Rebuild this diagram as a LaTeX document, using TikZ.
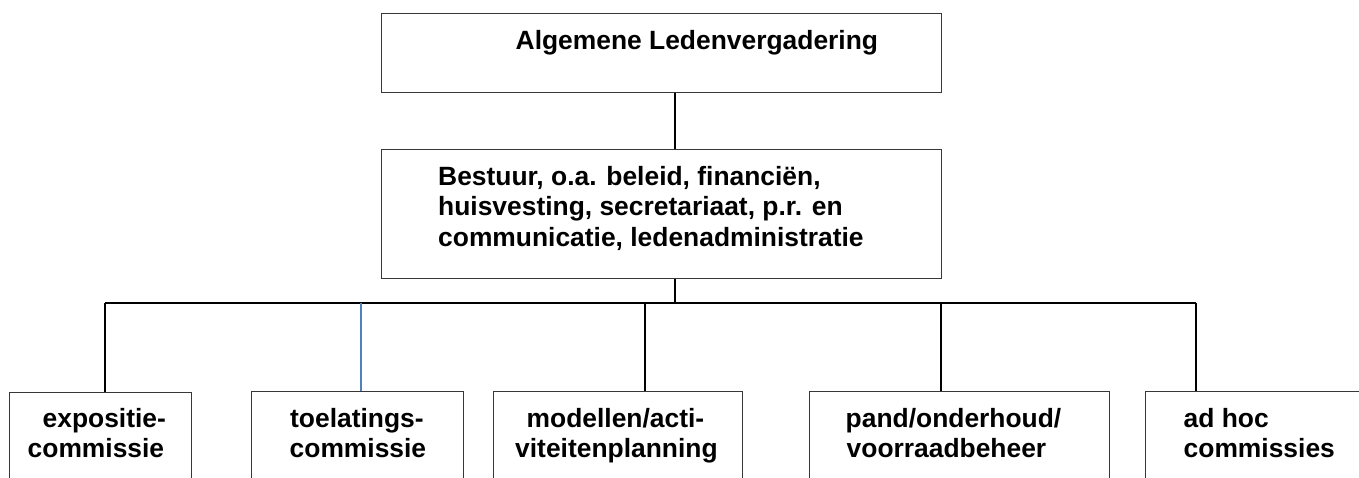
\documentclass[tikz,border=0pt]{standalone}
\usepackage{fontspec}
\setmainfont{Liberation Sans}
\begin{document}
\begin{tikzpicture}[x=1pt,y=-1pt,
  box/.style={draw=black!78, line width=1.1pt, rectangle, inner sep=0pt, anchor=north west},
  lbl/.style={inner sep=0pt, anchor=base west, font=\fontsize{26.4}{30}\selectfont\bfseries},
  conn/.style={draw=black, line width=1.4pt},
  bus/.style={draw=black, line width=2pt},
  blueconn/.style={draw={rgb,255:red,79;green,129;blue,189}, line width=1.4pt}]
\useasboundingbox (0,0) rectangle (1359,477);
\clip (0,0) rectangle (1359,477);
% boxes
\node[box, minimum width=560pt, minimum height=79pt] (alv) at (381,12.7) {};
\node[box, minimum width=560pt, minimum height=129pt] (bestuur) at (381,149.3) {};
\node[box, minimum width=182pt, minimum height=120pt] (b1) at (9,392) {};
\node[box, minimum width=212pt, minimum height=120pt] (b2) at (251,390.7) {};
\node[box, minimum width=249.3pt, minimum height=120pt] (b3) at (492.7,390.7) {};
\node[box, minimum width=300pt, minimum height=120pt] (b4) at (809,390.7) {};
\node[box, minimum width=230pt, minimum height=120pt] (b5) at (1145,391) {};
% texts
\node[lbl] (talv) at (515.5,49.3) {Algemene Ledenvergadering};
\node[lbl] (tb1) at (438,185) {Bestuur, o.a. beleid, financiën,};
\node[lbl] (tb2) at (438,215.5) {huisvesting, secretariaat, p.r. en};
\node[lbl] (tb3) at (438,246.5) {communicatie, ledenadministratie};
\node[lbl] (t1a) at (42.5,427) {expositie-};
\node[lbl] (t1b) at (27.5,457) {commissie};
\node[lbl] (t2a) at (290,427) {toelatings-};
\node[lbl] (t2b) at (289.5,457) {commissie};
\node[lbl] (t3a) at (526.5,427) {modellen/acti-};
\node[lbl] (t3b) at (515,457) {viteitenplanning};
\node[lbl] (t4a) at (845.5,427) {pand/onderhoud/};
\node[lbl] (t4b) at (846.5,457) {voorraadbeheer};
\node[lbl] (t5a) at (1183.5,427) {ad hoc};
\node[lbl] (t5b) at (1183.5,457) {commissies};
% connector coordinates
\coordinate (c) at (675,0);
\coordinate (busL) at (105,302.7);
\coordinate (busR) at (1196,302.7);
\coordinate (d2) at (361,302.7);
\coordinate (d3) at (645,302.7);
\coordinate (d4) at (941,302.7);
% connectors
\draw[conn] (alv.south -| c) -- (bestuur.north -| c);
\draw[conn] (bestuur.south -| c) -- (c |- busL);
\draw[bus] (busL) -- (busR);
\draw[conn] (busL) -- (busL |- b1.north);
\draw[blueconn] (d2) -- (d2 |- b2.north);
\draw[conn] (d3) -- (d3 |- b3.north);
\draw[conn] (d4) -- (d4 |- b4.north);
\draw[conn] (busR) -- (busR |- b5.north);
\end{tikzpicture}
\end{document}
